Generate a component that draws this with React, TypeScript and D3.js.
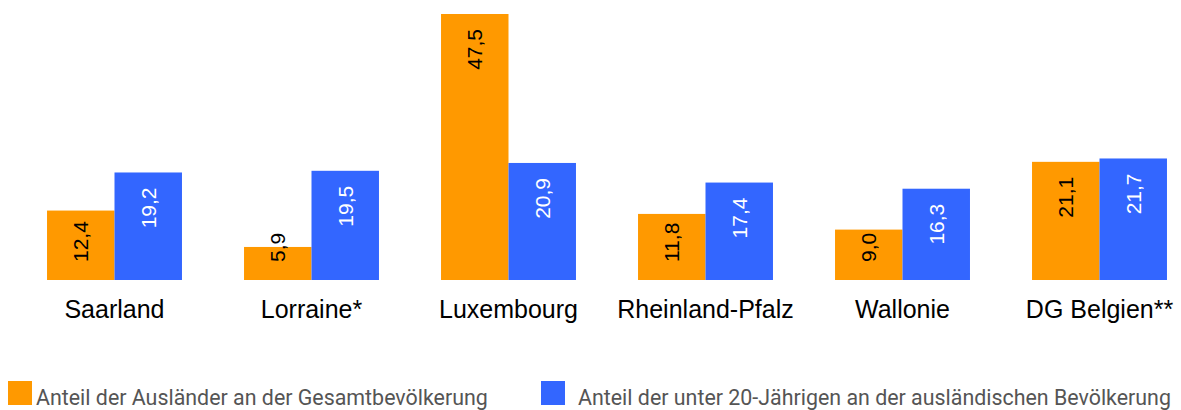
import React from "react";
import * as d3 from "d3";

const categories = ["Saarland", "Lorraine*", "Luxembourg", "Rheinland-Pfalz", "Wallonie", "DG Belgien**"];
const seriesNames = [
  "Anteil der Ausländer an der Gesamtbevölkerung",
  "Anteil der unter 20-Jährigen an der ausländischen Bevölkerung",
];
const auslaender = [12.4, 5.9, 47.5, 11.8, 9.0, 21.1];
const unter20 = [19.2, 19.5, 20.9, 17.4, 16.3, 21.7];

const colors = ["#FF9900", "#3366FF"];
const labelColors = ["#000000", "#FFFFFF"];

const W = 1181;
const H = 410;

function fmt(v: number) {
  return v.toFixed(1).replace(".", ",");
}

function approxWidth(s: string, fs: number) {
  let w = 0;
  for (const c of s) w += c === "," ? 0.278 : 0.556;
  return w * fs;
}

export default function App() {
  const x0 = d3.scaleBand<string>().domain(categories).range([16, 1198]).paddingInner(0.315).paddingOuter(0.1575);
  const x1 = d3.scaleBand<number>().domain([0, 1]).range([0, x0.bandwidth()]);
  const y = d3.scaleLinear().domain([0, 50]).range([280, 0]);
  const series = [auslaender, unter20];
  const labelFs = 21;

  return (
    <svg width={W} height={H} style={{ position: "absolute", left: 0, top: 0 }}>
      {categories.map((c, i) => (
        <g key={c} transform={`translate(${x0(c)},0)`}>
          {series.map((s, k) => {
            const v = s[i];
            const top = y(v);
            const bx = x1(k)!;
            const bw = x1.bandwidth();
            const txt = fmt(v);
            const tw = approxWidth(txt, labelFs);
            const bottom = Math.min(top + 15 + tw, 262);
            const cx = bx + bw / 2;
            return (
              <g key={k}>
                <rect x={bx} y={top} width={bw} height={y(0) - top} fill={colors[k]} />
                <text
                  transform={`translate(${cx},${bottom}) rotate(-90)`}
                  dy="0.35em"
                  textAnchor="start"
                  fontFamily="'Liberation Sans', Arial, sans-serif"
                  fontSize={labelFs}
                  fill={labelColors[k]}
                >
                  {txt}
                </text>
              </g>
            );
          })}
          <text
            x={x0.bandwidth() / 2}
            y={318}
            textAnchor="middle"
            fontFamily="'Liberation Sans', Arial, sans-serif"
            fontSize={25}
            fill="#000"
          >
            {c}
          </text>
        </g>
      ))}
      {seriesNames.map((n, k) => {
        const lx = k === 0 ? 8 : 541;
        return (
          <g key={n}>
            <rect x={lx} y={381} width={24} height={24} fill={colors[k]} />
            <text
              x={lx + (k === 0 ? 28 : 37)}
              y={405}
              fontFamily="Roboto, sans-serif"
              fontSize={21.4}
              fill="#555555"
            >
              {n}
            </text>
          </g>
        );
      })}
    </svg>
  );
}
